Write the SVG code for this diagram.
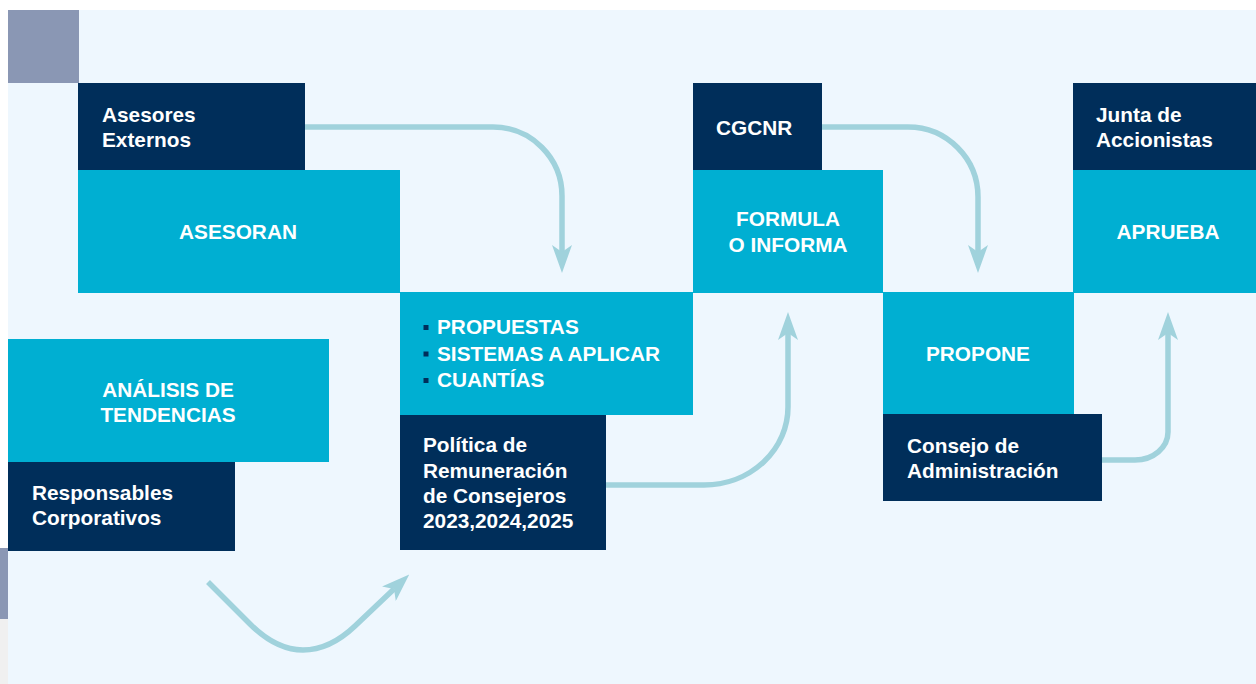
<svg xmlns="http://www.w3.org/2000/svg" width="1256" height="684" viewBox="0 0 1256 684">
<style>
.bg{fill:#EEF7FE}
.navy{fill:#002E5A}
.cyan{fill:#00AFD2}
.t{font-family:"Liberation Sans",Arial,sans-serif;font-weight:bold;font-size:20.8px;fill:#FFFFFF}
.c{text-anchor:middle}
.conn{fill:none;stroke:#A0D2DC;stroke-width:5.5;marker-end:url(#ah)}
.bul{fill:#002E5A}
</style>
<defs>
<marker id="ah" markerUnits="userSpaceOnUse" viewBox="0 0 28 20" markerWidth="28" markerHeight="20" refX="7" refY="10" orient="auto">
<path d="M0,0 L28,10 L0,20 L7,10 z" fill="#A0D2DC"/>
</marker>
</defs>
<rect x="0" y="0" width="1256" height="684" fill="#FFFFFF"/>
<rect class="bg" x="8" y="10" width="1248" height="674"/>
<rect x="8" y="10" width="71" height="73" fill="#8A97B4"/>
<rect x="0" y="548" width="8" height="71" fill="#8A97B4"/>
<rect x="0" y="619" width="8" height="65" fill="#F0F0F0"/>

<g id="connectors">
<path class="conn" d="M305,127 H493 A69,69 0 0 1 562,196 V252"/>
<path class="conn" d="M822,127 H908 A70,70 0 0 1 978,197 V252"/>
<path class="conn" d="M606,485 H704 A84,78 0 0 0 788,407 V333"/>
<path class="conn" d="M1102,460 H1135 A33,28 0 0 0 1168,432 V333"/>
<path class="conn" d="M208,582 L250,624 C272,646 290,650 303,650 C318,650 335,645 355,626 L394,589"/>
</g>

<g id="asesores-externos">
<rect class="navy" x="78" y="83" width="227" height="87"/>
<text class="t" x="102" y="122">Asesores</text>
<text class="t" x="102" y="147">Externos</text>
</g>
<g id="asesoran">
<rect class="cyan" x="78" y="170" width="322" height="123"/>
<text class="t c" x="238" y="239">ASESORAN</text>
</g>
<g id="analisis">
<rect class="cyan" x="8" y="339" width="321" height="123"/>
<text class="t c" x="168" y="397">ANÁLISIS DE</text>
<text class="t c" x="168" y="422">TENDENCIAS</text>
</g>
<g id="responsables">
<rect class="navy" x="8" y="462" width="227" height="89"/>
<text class="t" x="32" y="500">Responsables</text>
<text class="t" x="32" y="525">Corporativos</text>
</g>
<g id="propuestas">
<rect class="cyan" x="400" y="292" width="293" height="123"/>
<rect class="bul" x="423.5" y="325" width="5" height="5"/>
<rect class="bul" x="423.5" y="351.5" width="5" height="5"/>
<rect class="bul" x="423.5" y="378" width="5" height="5"/>
<text class="t" x="437" y="334">PROPUESTAS</text>
<text class="t" x="437" y="360.5">SISTEMAS A APLICAR</text>
<text class="t" x="437" y="387">CUANTÍAS</text>
</g>
<g id="politica">
<rect class="navy" x="400" y="415" width="206" height="135"/>
<text class="t" x="423" y="452">Política de</text>
<text class="t" x="423" y="477.5">Remuneración</text>
<text class="t" x="423" y="502.5">de Consejeros</text>
<text class="t" x="423" y="528">2023,2024,2025</text>
</g>
<g id="cgcnr">
<rect class="navy" x="693" y="83" width="129" height="87"/>
<text class="t" x="716" y="135">CGCNR</text>
</g>
<g id="formula">
<rect class="cyan" x="693" y="170" width="190" height="123"/>
<text class="t c" x="788" y="226">FORMULA</text>
<text class="t c" x="788" y="252">O INFORMA</text>
</g>
<g id="propone">
<rect class="cyan" x="883" y="292" width="191" height="123"/>
<text class="t c" x="978" y="361">PROPONE</text>
</g>
<g id="consejo">
<rect class="navy" x="883" y="414" width="219" height="87"/>
<text class="t" x="907" y="453">Consejo de</text>
<text class="t" x="907" y="478">Administración</text>
</g>
<g id="junta">
<rect class="navy" x="1073" y="83" width="183" height="87"/>
<text class="t" x="1096" y="122">Junta de</text>
<text class="t" x="1096" y="147">Accionistas</text>
</g>
<g id="aprueba">
<rect class="cyan" x="1073" y="170" width="183" height="123"/>
<text class="t c" x="1168" y="239">APRUEBA</text>
</g>
</svg>
